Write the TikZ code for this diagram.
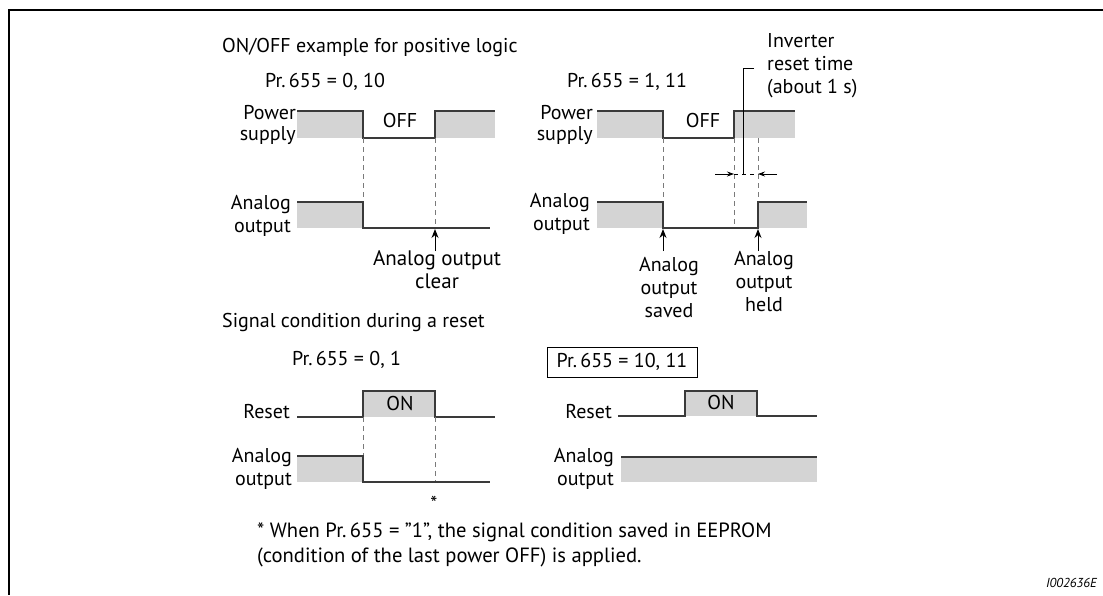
\documentclass[tikz,border=0pt]{standalone}
\usepackage{fontspec}
\setmainfont{PT Sans}
\usetikzlibrary{arrows.meta}
\definecolor{sig}{HTML}{3A3A3A}
\definecolor{fillg}{HTML}{D4D4D4}
\definecolor{dashg}{HTML}{7A7A7A}
\newcommand\sq{\symbol{34}}
\tikzset{
  txt/.style={inner sep=0pt, font=\fontsize{20}{23}\selectfont},
  lbl/.style={txt, align=right, anchor=base east},
  ctr/.style={txt, align=center, anchor=base},
  signal/.style={draw=sig, line width=1.4pt},
  grey/.style={fill=fillg, draw=none},
  vdash/.style={draw=dashg, line width=1pt, dash pattern=on 5pt off 4pt},
  uparrow/.style={draw=black, line width=1pt, -{Stealth[length=9pt,width=7pt]}},
  dimarrow/.style={draw=black, line width=0.8pt, -{Stealth[length=7pt,width=5pt]}},
  frameline/.style={draw=black, line width=2.2pt}
}
\begin{document}
\begin{tikzpicture}[x=1pt,y=-1pt]
\useasboundingbox (0,0) rectangle (1103,595);
% frame
\coordinate (fTL) at (9,10);
\coordinate (fTR) at (1103,10);
\coordinate (fBL) at (9,595);
\draw[frameline] (fTR) -- (fTL) -- (fBL);

% titles
\node[txt, anchor=base west] (title1) at (222,52) {ON/OFF example for positive logic};
\node[txt, anchor=base west] (pr1) at (265,87) {Pr.\,655 = 0, 10};
\node[txt, anchor=base west] (pr2) at (567,87) {Pr.\,655 = 1, 11};
\node[txt, anchor=base west, align=left] (inv) at (767,93) {Inverter\\reset time\\(about 1 s)};

% ---------- top left ----------
\fill[grey] (297,111) rectangle (363,138);
\fill[grey] (435,111) rectangle (495,138);
\draw[signal] (297,111) -- (363,111) -- (363,138) -- (435,138) -- (435,111) -- (495,111);
\node[lbl, font=\fontsize{20}{21}\selectfont] (pw1) at (296,140) {Power\\supply};
\node[txt] (off1) at (400,120) {OFF};
\draw[vdash] (363,138) -- (363,202);
\draw[vdash] (435,138) -- (435,228);
\fill[grey] (297,202) rectangle (363,228);
\draw[signal] (297,202) -- (363,202) -- (363,228) -- (490,228);
\node[lbl] (an1) at (291,232) {Analog\\output};
\coordinate (clrA) at (435,251);
\coordinate (clrB) at (435,229);
\draw[uparrow] (clrA) -- (clrB);
\node[ctr, font=\fontsize{21}{23}\selectfont] (clear) at (437,288) {Analog output\\clear};

% ---------- top right ----------
\fill[grey] (597,111) rectangle (663,138);
\fill[grey] (734,111) rectangle (795,138);
\draw[signal] (597,111) -- (663,111) -- (663,138) -- (734,138) -- (734,111) -- (795,111);
\node[lbl, font=\fontsize{20}{21}\selectfont] (pw2) at (593,140) {Power\\supply};
\node[txt] (off2) at (703,120) {OFF};
\draw[vdash] (663,138) -- (663,202);
\draw[vdash] (734,138) -- (734,228);
\draw[vdash] (758,138) -- (758,202);
% reset time dimension
\coordinate (dL) at (715,174);
\coordinate (dL2) at (734,174);
\coordinate (dR) at (777,174);
\coordinate (dR2) at (758,174);
\draw[dimarrow] (dL) -- (dL2);
\draw[dimarrow] (dR) -- (dR2);
\draw[draw=black, line width=0.8pt, dash pattern=on 4pt off 4pt] (dL2) -- (dR2);
\coordinate (ldT) at (754,68);
\coordinate (ldC) at (743,68);
\coordinate (ldB) at (743,174);
\draw[draw=black, line width=0.9pt] (ldT) -- (ldC) -- (ldB);
\fill[grey] (597,202) rectangle (663,228);
\fill[grey] (758,202) rectangle (807,228);
\draw[signal] (597,202) -- (663,202) -- (663,228) -- (758,228) -- (758,202) -- (807,202);
\node[lbl] (an2) at (590,230) {Analog\\output};
\coordinate (svA) at (663,251);
\coordinate (svB) at (663,229);
\draw[uparrow] (svA) -- (svB);
\coordinate (hdA) at (758,251);
\coordinate (hdB) at (758,229);
\draw[uparrow] (hdA) -- (hdB);
\node[ctr] (saved) at (669,317) {Analog\\output\\saved};
\node[ctr] (held) at (764,311) {Analog\\output\\held};

% ---------- signal condition ----------
\node[txt, anchor=base west] (title2) at (222,327) {Signal condition during a reset};
\node[txt, anchor=base west] (pr3) at (292,365) {Pr.\,655 = 0, 1};
\node[txt, draw=black, line width=0.9pt, minimum width=150pt, minimum height=30pt] (pr4) at (622,362) {Pr.\,655 = 10, 11};

% bottom left
\fill[grey] (363,391) rectangle (435,417);
\draw[signal] (297,417) -- (363,417) -- (363,391) -- (435,391) -- (435,417) -- (495,417);
\node[lbl] (rs1) at (290,418) {Reset};
\node[txt] (on1) at (400,403) {ON};
\draw[vdash] (363,417) -- (363,456);
\draw[vdash] (435,417) -- (435,482);
\fill[grey] (297,456) rectangle (363,482);
\draw[signal] (297,456) -- (363,456) -- (363,482) -- (490,482);
\node[lbl] (an3) at (292,485) {Analog\\output};
\node[txt] (star) at (434,503) {*};

% bottom right
\fill[grey] (685,391) rectangle (757,416);
\draw[signal] (618,416) -- (685,416) -- (685,391) -- (757,391) -- (757,416) -- (817,416);
\node[lbl] (rs2) at (612,418) {Reset};
\node[txt] (on2) at (721,402) {ON};
\fill[grey] (621,457) rectangle (817,482);
\draw[signal] (621,457) -- (817,457);
\node[lbl] (an4) at (614,485) {Analog\\output};

% footnote
\node[txt, anchor=base west, align=left, font=\fontsize{20.6}{25}\selectfont] (foot) at (257,562) {* When Pr.\,655 = \sq1\sq, the signal condition saved in EEPROM\\(condition of the last power OFF) is applied.};
\node[inner sep=0pt, anchor=base east, font=\fontsize{13}{14}\selectfont\itshape] (code) at (1097,587) {I002636E};
\end{tikzpicture}
\end{document}
